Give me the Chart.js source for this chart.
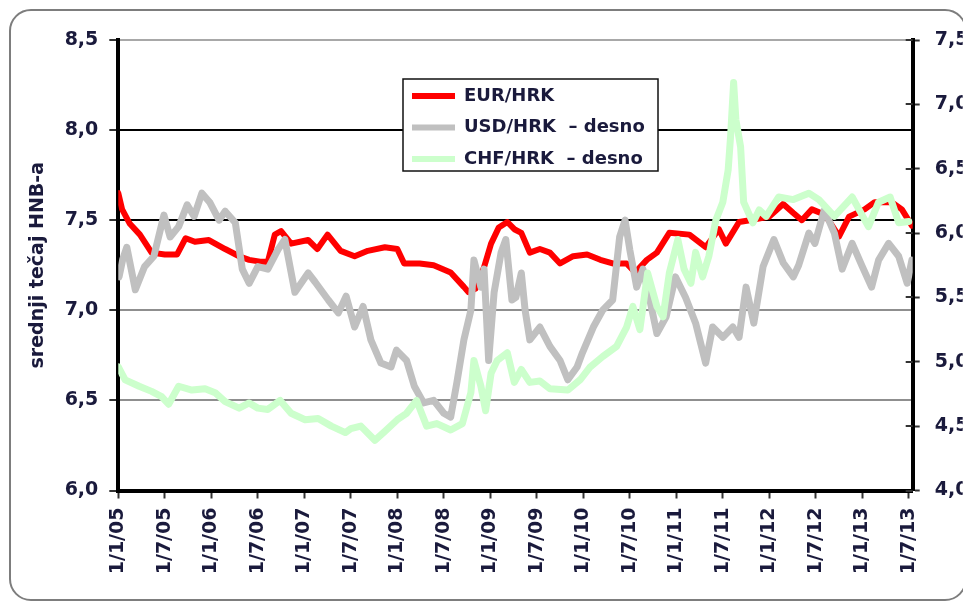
<!DOCTYPE html>
<html><head><meta charset="utf-8">
<script src="https://cdn.jsdelivr.net/npm/chart.js@4.4.1/dist/chart.umd.min.js"></script>
<style>
html,body{margin:0;padding:0;background:#fff;overflow:hidden;width:963px;height:602px;}
#frame{position:absolute;left:9px;top:9px;width:954px;height:588px;border:2px solid #7d7d7d;border-radius:22px;}
#wrap{position:absolute;left:0;top:0;width:1000px;height:602px;}
</style></head><body>
<div id="frame"></div>
<div id="wrap"><canvas id="c"></canvas></div>
<script>
const xTickLabels = ['1/1/05','1/7/05','1/1/06','1/7/06','1/1/07','1/7/07','1/1/08','1/7/08','1/1/09','1/7/09','1/1/10','1/7/10','1/1/11','1/7/11','1/1/12','1/7/12','1/1/13','1/7/13'];
const leftTickLabels = ['6,0','6,5','7,0','7,5','8,0','8,5'];
const rightTickLabels = ['4,0','4,5','5,0','5,5','6,0','6,5','7,0','7,5'];
const seriesNames = ['EUR/HRK', 'USD/HRK  \u2013 desno', 'CHF/HRK  \u2013 desno'];

const eurDates = ['2005-01-01','2005-01-16','2005-02-16','2005-03-25','2005-05-10','2005-07-01','2005-08-19','2005-09-22','2005-10-28','2005-12-22',
'2006-02-25','2006-04-19','2006-05-28','2006-07-10','2006-08-10','2006-09-07','2006-10-01','2006-11-10','2007-01-16','2007-02-22',
'2007-04-01','2007-05-22','2007-07-16','2007-09-07','2007-11-13','2008-01-01','2008-01-28','2008-03-28','2008-05-22','2008-07-28',
'2008-09-19','2008-10-07','2008-11-04','2008-12-07','2009-01-04','2009-02-04','2009-03-07','2009-04-04','2009-05-01','2009-06-04',
'2009-07-13','2009-08-22','2009-10-01','2009-11-22','2010-01-16','2010-03-07','2010-04-25','2010-06-19','2010-07-22','2010-09-07',
'2010-10-16','2010-12-04','2011-02-22','2011-04-25','2011-06-16','2011-07-13','2011-09-04','2011-10-16','2012-01-01','2012-02-25',
'2012-04-04','2012-05-07','2012-06-16','2012-08-07','2012-10-01','2012-11-10','2013-01-10','2013-02-19','2013-04-25','2013-06-04','2013-07-13'];
const eurValues = [7.65,7.56,7.48,7.42,7.32,7.31,7.31,7.40,7.38,7.39,
7.34,7.30,7.28,7.27,7.27,7.42,7.44,7.37,7.39,7.34,
7.42,7.33,7.30,7.33,7.35,7.34,7.26,7.26,7.25,7.21,
7.13,7.10,7.12,7.24,7.37,7.46,7.49,7.45,7.43,7.32,
7.34,7.32,7.26,7.30,7.31,7.28,7.26,7.26,7.21,7.28,
7.32,7.43,7.42,7.35,7.45,7.37,7.49,7.50,7.52,7.59,
7.54,7.50,7.56,7.53,7.41,7.52,7.56,7.60,7.60,7.56,7.47];

const usdDates = ['2005-01-04','2005-01-19','2005-02-04','2005-03-07','2005-04-13','2005-05-19','2005-06-28','2005-07-22','2005-08-25','2005-09-28',
'2005-10-25','2005-11-25','2005-12-25','2006-02-01','2006-02-25','2006-04-04','2006-05-01','2006-05-28','2006-07-01','2006-08-10',
'2006-09-19','2006-10-16','2006-11-25','2007-01-16','2007-02-13','2007-04-04','2007-05-13','2007-06-13','2007-07-16','2007-08-19',
'2007-09-19','2007-10-28','2007-12-07','2007-12-28','2008-02-07','2008-03-07','2008-04-13','2008-05-22','2008-07-01','2008-07-28',
'2008-08-22','2008-09-19','2008-10-16','2008-10-28','2008-11-25','2008-12-07','2008-12-25','2009-01-16','2009-02-13','2009-03-01',
'2009-03-25','2009-04-10','2009-05-01','2009-05-16','2009-06-04','2009-07-13','2009-08-22','2009-10-01','2009-11-01','2009-12-07',
'2009-12-28','2010-02-10','2010-03-16','2010-04-25','2010-05-22','2010-06-13','2010-07-01','2010-07-28','2010-08-22','2010-09-19',
'2010-10-16','2010-11-22','2010-12-28','2011-02-07','2011-03-16','2011-04-25','2011-05-22','2011-07-01','2011-08-10','2011-09-04',
'2011-10-01','2011-11-01','2011-12-07','2012-01-19','2012-02-25','2012-04-04','2012-04-25','2012-06-04','2012-06-28','2012-08-04',
'2012-09-13','2012-10-13','2012-11-22','2013-01-01','2013-02-07','2013-03-04','2013-04-13','2013-05-22','2013-06-25','2013-07-13'];
const usdValues = [5.66,5.80,5.89,5.56,5.74,5.82,6.14,5.97,6.05,6.22,
6.13,6.31,6.24,6.10,6.17,6.08,5.72,5.61,5.74,5.72,
5.87,5.95,5.54,5.69,5.62,5.48,5.38,5.51,5.27,5.43,
5.17,4.99,4.96,5.09,5.01,4.81,4.68,4.70,4.60,4.57,
4.84,5.17,5.40,5.79,5.58,5.72,5.01,5.54,5.85,5.95,
5.48,5.50,5.69,5.40,5.17,5.27,5.12,5.01,4.86,4.96,
5.07,5.27,5.40,5.48,5.97,6.10,5.87,5.58,5.72,5.48,
5.22,5.35,5.66,5.50,5.30,4.99,5.27,5.19,5.27,5.19,
5.58,5.30,5.74,5.95,5.77,5.66,5.75,6.00,5.92,6.18,
6.00,5.72,5.92,5.74,5.58,5.79,5.92,5.82,5.61,5.79];

const chfDates = ['2005-01-01','2005-01-28','2005-03-22','2005-05-10','2005-06-19','2005-07-16','2005-08-25','2005-10-16','2005-12-07','2006-01-16',
'2006-02-25','2006-04-19','2006-05-28','2006-07-01','2006-08-10','2006-09-28','2006-11-10','2007-01-04','2007-02-25','2007-04-16',
'2007-06-10','2007-07-01','2007-08-10','2007-10-04','2007-11-13','2008-01-01','2008-02-07','2008-03-16','2008-04-25','2008-06-04',
'2008-07-28','2008-09-13','2008-10-16','2008-10-28','2008-11-25','2008-12-13','2009-01-04','2009-01-28','2009-03-07','2009-04-04',
'2009-05-01','2009-06-04','2009-07-13','2009-08-22','2009-11-01','2009-12-19','2010-01-28','2010-03-16','2010-05-10','2010-06-19',
'2010-07-13','2010-08-10','2010-09-10','2010-10-16','2010-11-10','2010-12-04','2011-01-07','2011-02-01','2011-02-28','2011-03-16',
'2011-04-13','2011-05-07','2011-06-04','2011-07-01','2011-07-22','2011-08-01','2011-08-13','2011-08-22','2011-09-10','2011-09-22',
'2011-10-28','2011-11-22','2011-12-19','2012-02-07','2012-04-04','2012-06-04','2012-07-13','2012-09-13','2012-11-22','2013-01-25',
'2013-03-04','2013-04-19','2013-05-22','2013-07-01'];
const chfValues = [4.96,4.86,4.81,4.77,4.73,4.67,4.81,4.78,4.79,4.76,
4.69,4.64,4.68,4.64,4.63,4.70,4.60,4.55,4.56,4.50,
4.45,4.48,4.50,4.39,4.46,4.55,4.60,4.70,4.50,4.52,
4.47,4.52,4.76,5.01,4.81,4.62,4.91,5.01,5.07,4.84,
4.94,4.84,4.85,4.79,4.78,4.86,4.96,5.04,5.12,5.27,
5.43,5.25,5.69,5.43,5.35,5.69,5.95,5.72,5.61,5.85,
5.66,5.82,6.10,6.24,6.49,6.75,7.17,6.88,6.67,6.24,
6.08,6.18,6.13,6.28,6.26,6.31,6.26,6.13,6.28,6.05,
6.24,6.28,6.08,6.09];

// months elapsed since 1 Jan 2005
function toMonths(d) {
  const [y, m, day] = d.split('-').map(Number);
  return (y - 2005) * 12 + (m - 1) + (day - 1) / 30.5;
}
function pts(dates, values) { return dates.map((d, i) => ({ x: toMonths(d), y: values[i] })); }

const TXT = '#1a1a3c';
const FONT = { family: 'DejaVu Sans', weight: 'bold', size: 19 };
const LEGEND_BOX = { x: 403, y: 79, w: 255, h: 92 };

const legendPlacer = {
  id: 'legendPlacer',
  afterLayout(chart) {
    const lg = chart.legend;
    const p = lg.options.labels.padding;
    lg.left = LEGEND_BOX.x + 9 - p;
    lg.top = LEGEND_BOX.y + 8 - p;
    lg.width = 400; lg.height = 300;
    lg.right = lg.left + 400; lg.bottom = lg.top + 300;
  },
  afterDraw(chart) {
    const ctx = chart.ctx;
    ctx.save();
    // inner half of the right-axis tick marks (they cross the axis)
    const s = chart.scales.y2;
    ctx.strokeStyle = '#333';
    ctx.lineWidth = 2;
    s.ticks.forEach(t => {
      const py = Math.round(s.getPixelForValue(t.value));
      ctx.beginPath();
      ctx.moveTo(s.left - 7, py);
      ctx.lineTo(s.left, py);
      ctx.stroke();
    });
    ctx.fillStyle = '#fff';
    ctx.fillRect(LEGEND_BOX.x, LEGEND_BOX.y, LEGEND_BOX.w, LEGEND_BOX.h);
    ctx.lineWidth = 1.5;
    ctx.strokeStyle = '#111';
    ctx.strokeRect(LEGEND_BOX.x, LEGEND_BOX.y, LEGEND_BOX.w, LEGEND_BOX.h);
    ctx.restore();
    chart.legend.draw();
  }
};

const gridColor = (ctx) => {
  const v = ctx.tick ? ctx.tick.value : null;
  if (v === 8 || v === 7.5) return '#000';
  if (v === 8.5) return '#a8a8a8';
  if (v === 6) return 'rgba(0,0,0,0)';
  return '#8f8f8f';
};

new Chart(document.getElementById('c'), {
  type: 'line',
  data: {
    datasets: [
      { label: seriesNames[0], data: pts(eurDates, eurValues), yAxisID: 'y', borderColor: '#ff0000', backgroundColor: '#ff0000', borderWidth: 6, order: 3 },
      { label: seriesNames[1], data: pts(usdDates, usdValues), yAxisID: 'y2', borderColor: '#c0c0c0', backgroundColor: '#c0c0c0', borderWidth: 7, order: 2 },
      { label: seriesNames[2], data: pts(chfDates, chfValues), yAxisID: 'y2', borderColor: '#ccffcc', backgroundColor: '#ccffcc', borderWidth: 7, order: 1 }
    ]
  },
  options: {
    responsive: true,
    maintainAspectRatio: false,
    animation: false,
    devicePixelRatio: 1,
    layout: { padding: { left: 10, top: 40, right: 37.3, bottom: 11.5 } },
    elements: { point: { radius: 0 }, line: { tension: 0, borderJoinStyle: 'round', borderCapStyle: 'round', fill: false } },
    plugins: {
      tooltip: { enabled: false },
      legend: {
        position: 'chartArea',
        align: 'start',
        labels: {
          font: { family: 'DejaVu Sans', weight: 'bold', size: 18 },
          color: TXT,
          boxWidth: 43,
          boxHeight: 6,
          padding: 13.5,
          sort: (a, b) => a.datasetIndex - b.datasetIndex,
          generateLabels: (chart) => Chart.defaults.plugins.legend.labels.generateLabels(chart).map(it => Object.assign(it, { lineWidth: 0, fillStyle: it.strokeStyle }))
        }
      }
    },
    scales: {
      x: {
        type: 'linear', min: 0, max: 102.5,
        afterFit: (s) => { s.height = 100; },
        border: { display: true, color: '#000', width: 4 },
        grid: { display: true, drawOnChartArea: false, drawTicks: true, tickLength: 8, tickColor: '#333', tickWidth: 2 },
        ticks: {
          stepSize: 6, includeBounds: false, autoSkip: false, minRotation: 90, maxRotation: 90, padding: 9,
          font: FONT, color: TXT,
          callback: (v) => xTickLabels[Math.round(v / 6)]
        }
      },
      y: {
        position: 'left', min: 6, max: 8.5,
        afterFit: (s) => { s.width = 108.3; },
        border: { display: true, color: '#000', width: 4 },
        grid: { color: gridColor, lineWidth: 2, tickLength: 9, tickColor: '#333', tickWidth: 2 },
        ticks: { stepSize: 0.5, padding: 11, font: FONT, color: TXT, callback: (v) => leftTickLabels[Math.round((v - 6) / 0.5)] },
        title: { display: true, text: 'srednji tečaj HNB-a', font: FONT, color: TXT, padding: { top: 17, bottom: 0 } }
      },
      y2: {
        position: 'right', min: 4, max: 7.5,
        afterFit: (s) => { s.width = 50; },
        border: { display: true, color: '#000', width: 4 },
        grid: { drawOnChartArea: false, tickLength: 7, tickColor: '#333', tickWidth: 2 },
        ticks: { stepSize: 0.5, padding: 15, font: FONT, color: TXT, callback: (v) => rightTickLabels[Math.round((v - 4) / 0.5)] }
      }
    }
  },
  plugins: [legendPlacer]
});
</script>
</body></html>
